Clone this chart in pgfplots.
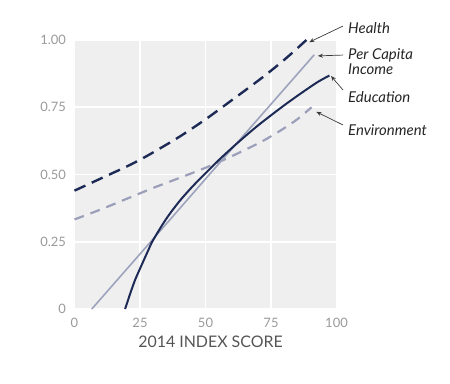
\documentclass[border=0pt]{standalone}
\usepackage{fontspec}
\setmainfont{Lato}
\usepackage{pgfplots}
\pgfplotsset{compat=1.18}
\usetikzlibrary{arrows.meta}
\definecolor{navy}{HTML}{1C2A55}
\definecolor{lightnavy}{HTML}{9EA3BD}
\definecolor{envcol}{HTML}{9C9FBA}
\definecolor{bggray}{HTML}{EFEFEF}
\definecolor{ticklab}{HTML}{9A9A9A}
\definecolor{labgray}{HTML}{555555}
\definecolor{arrowgray}{HTML}{3A3A3A}
\begin{document}
\begin{tikzpicture}[x=1bp,y=1bp]
\begin{axis}[
  at={(0,0)}, anchor=origin,
  scale only axis, width=262bp, height=269bp,
  xmin=0, xmax=100, ymin=0, ymax=1,
  clip=false,
  axis line style={draw=none},
  axis background/.style={fill=bggray},
  grid=major, major grid style={white, line width=1.8pt},
  major tick length=0pt,
  xtick={0,25,50,75,100},
  ytick={0,0.25,0.5,0.75,1},
  yticklabels={0,0.25,0.50,0.75,1.00},
  xticklabels={0,25,50,75,100},
  tick label style={font=\fontsize{13}{15}\selectfont, text=ticklab},
  xticklabel style={yshift=-6bp},
  yticklabel style={xshift=-5bp},
  xlabel={2014 INDEX SCORE},
  xlabel style={font=\fontsize{16}{18}\selectfont, text=labgray, yshift=-1bp, xshift=5bp},
]
% Health
\addplot[navy, line width=2.4pt, dash pattern=on 12bp off 7bp, smooth] coordinates {
(0,0.44) (10,0.485) (20,0.53) (25,0.555) (30,0.582) (40,0.64) (50,0.705) (60,0.776) (70,0.848) (75,0.886) (80,0.926) (84,0.96) (88.5,1.0)};
% Environment
\addplot[envcol, line width=2.2pt, dash pattern=on 10bp off 7bp, smooth] coordinates {
(0,0.333) (10,0.37) (20,0.41) (25,0.43) (30,0.45) (40,0.487) (50,0.525) (60,0.568) (70,0.615) (75,0.642) (80,0.672) (85,0.705) (90.5,0.75)};
% Per Capita Income
\addplot[lightnavy, line width=1.6pt] coordinates {
(6.6,0) (29,0.249) (50.5,0.489) (72.7,0.736) (91.5,0.945)};
% Education
\addplot[navy, line width=2pt, smooth] coordinates {
(19.3,0) (20,0.02) (21,0.05) (23,0.105) (25,0.15) (28,0.215) (30,0.256) (35,0.335) (40,0.40) (45,0.455) (50,0.505) (55,0.553) (60,0.598) (65,0.641) (70,0.682) (75,0.72) (80,0.757) (85,0.792) (89,0.819) (93,0.845) (97.3,0.868)};
% annotations
\draw[arrowgray, line width=0.7pt, -{Stealth[length=5bp,width=4bp]}] (axis cs:102.5,1.052) -- (axis cs:89.6,0.992);
\draw[arrowgray, line width=0.7pt, -{Stealth[length=5bp,width=4bp]}] (axis cs:102.5,0.944) -- (axis cs:92.9,0.941);
\draw[arrowgray, line width=0.7pt, -{Stealth[length=5bp,width=4bp]}] (axis cs:102.5,0.814) -- (axis cs:97.9,0.866);
\draw[arrowgray, line width=0.7pt, -{Stealth[length=5bp,width=4bp]}] (axis cs:102.5,0.684) -- (axis cs:92.3,0.733);
\node[anchor=west, font=\itshape\fontsize{15}{17}\selectfont, text=black!85, inner sep=0pt] at (axis cs:104.4,1.045) {Health};
\node[anchor=west, font=\itshape\fontsize{15}{15}\selectfont, text=black!85, inner sep=0pt, align=left] at (axis cs:104.4,0.918) {Per Capita\\Income};
\node[anchor=west, font=\itshape\fontsize{15}{17}\selectfont, text=black!85, inner sep=0pt] at (axis cs:104.4,0.788) {Education};
\node[anchor=west, font=\itshape\fontsize{15}{17}\selectfont, text=black!85, inner sep=0pt] at (axis cs:104.4,0.665) {Environment};
\end{axis}
\path[use as bounding box] (-74.5,-74) rectangle (375.5,309);
\end{tikzpicture}
\end{document}
